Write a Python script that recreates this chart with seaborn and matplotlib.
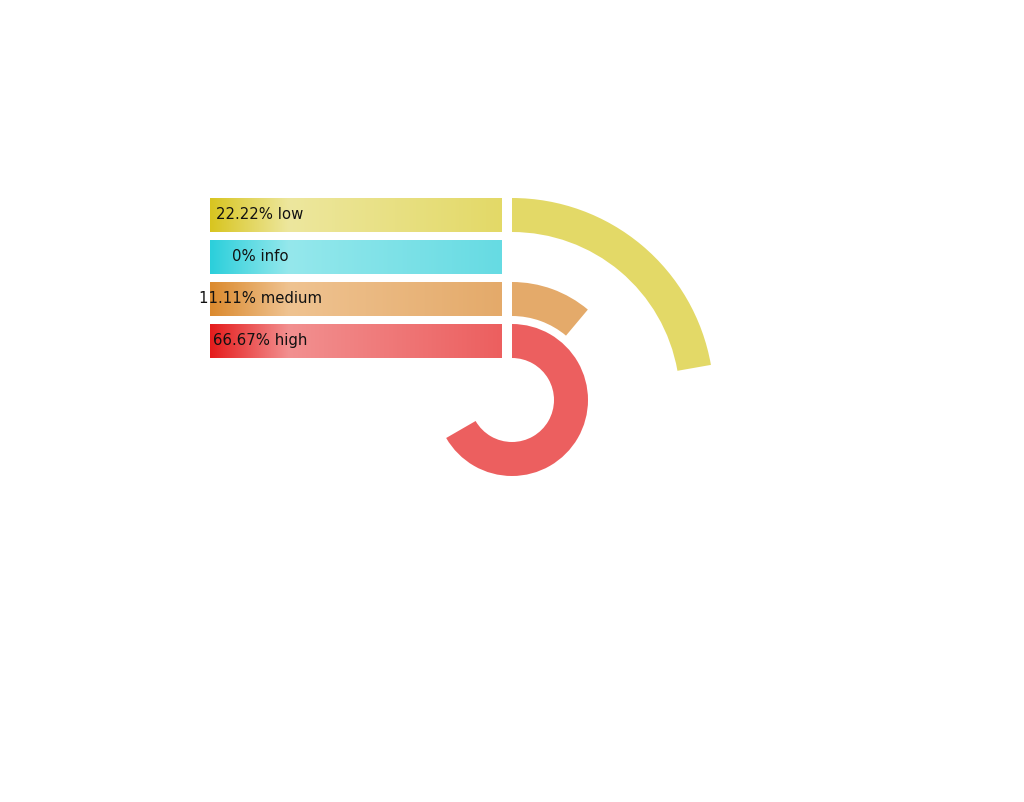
import numpy as np
import pandas as pd
import matplotlib
matplotlib.use("Agg")
import matplotlib.pyplot as plt
from matplotlib.patches import Wedge
from matplotlib.colors import LinearSegmentedColormap
import seaborn as sns

# ---- data ----
categories = ["low", "info", "medium", "high"]
percents = [22.22, 0, 11.11, 66.67]
labels = ["22.22% low", "0% info", "11.11% medium", "66.67% high"]
base_colors = ["#E3D967", "#66DBE3", "#E4AA6A", "#EC5F5F"]
dark_colors = ["#D8C520", "#2BCFDB", "#DB8A2E", "#E51C1C"]
light_colors = ["#EDE79E", "#95E8EC", "#EFC391", "#F29090"]

sns.set_theme(style="white")
plt.rcParams["font.family"] = ["DejaVu Sans"]

W, H = 1024, 803
fig = plt.figure(figsize=(W / 100, H / 100), dpi=100)
ax = fig.add_axes([0, 0, 1, 1])

# pixel-like coordinates: y up, origin at bar left edge (x) and ring centre (y)
cx = 302.0            # ring centre x in data units
x0, x1 = -210, W - 210
y_top, y_bot = 401, 401 - H

ring_w = 34
gap = 8
inner0 = 42
n = len(categories)
# ring radii from innermost (high) outward
inner = {c: inner0 + (n - 1 - i) * (ring_w + gap) for i, c in enumerate(categories)}
centers = [inner[c] + ring_w / 2 for c in categories]

df = pd.DataFrame({"category": categories, "y": centers, "length": [cx - 10] * n})
sns.barplot(data=df, x="length", y="y", orient="h", native_scale=True,
            width=ring_w / (ring_w + gap), color="white", ax=ax,
            edgecolor="none", linewidth=0)

patches = list(ax.patches)
patches.sort(key=lambda p: -p.get_y())
for i, p in enumerate(patches):
    cmap = LinearSegmentedColormap.from_list(
        categories[i], [(0, dark_colors[i]), (0.27, light_colors[i]), (1, base_colors[i])])
    grad = np.linspace(0, 1, 256).reshape(1, -1)
    bx, by, bw, bh = p.get_x(), p.get_y(), p.get_width(), p.get_height()
    im = ax.imshow(grad, cmap=cmap, aspect="auto", extent=[bx, bx + bw, by, by + bh],
                   interpolation="bilinear", zorder=2)
    im.set_clip_path(p)
    ax.text(50, by + bh / 2 + 1.5, labels[i], ha="center", va="center",
            fontsize=10.7, color="#111111", zorder=3)

for i, c in enumerate(categories):
    if percents[i] <= 0:
        continue
    r_out = inner[c] + ring_w
    theta = 360 * percents[i] / 100
    w = Wedge((cx, 0), r_out, 90 - theta, 90, width=ring_w,
              facecolor=base_colors[i], edgecolor="none", zorder=2)
    ax.add_patch(w)

ax.set_xlim(x0, x1)
ax.set_ylim(y_bot, y_top)
ax.set_aspect("equal", adjustable="box")
ax.axis("off")
fig.savefig("out.png", dpi=100, facecolor="white")
